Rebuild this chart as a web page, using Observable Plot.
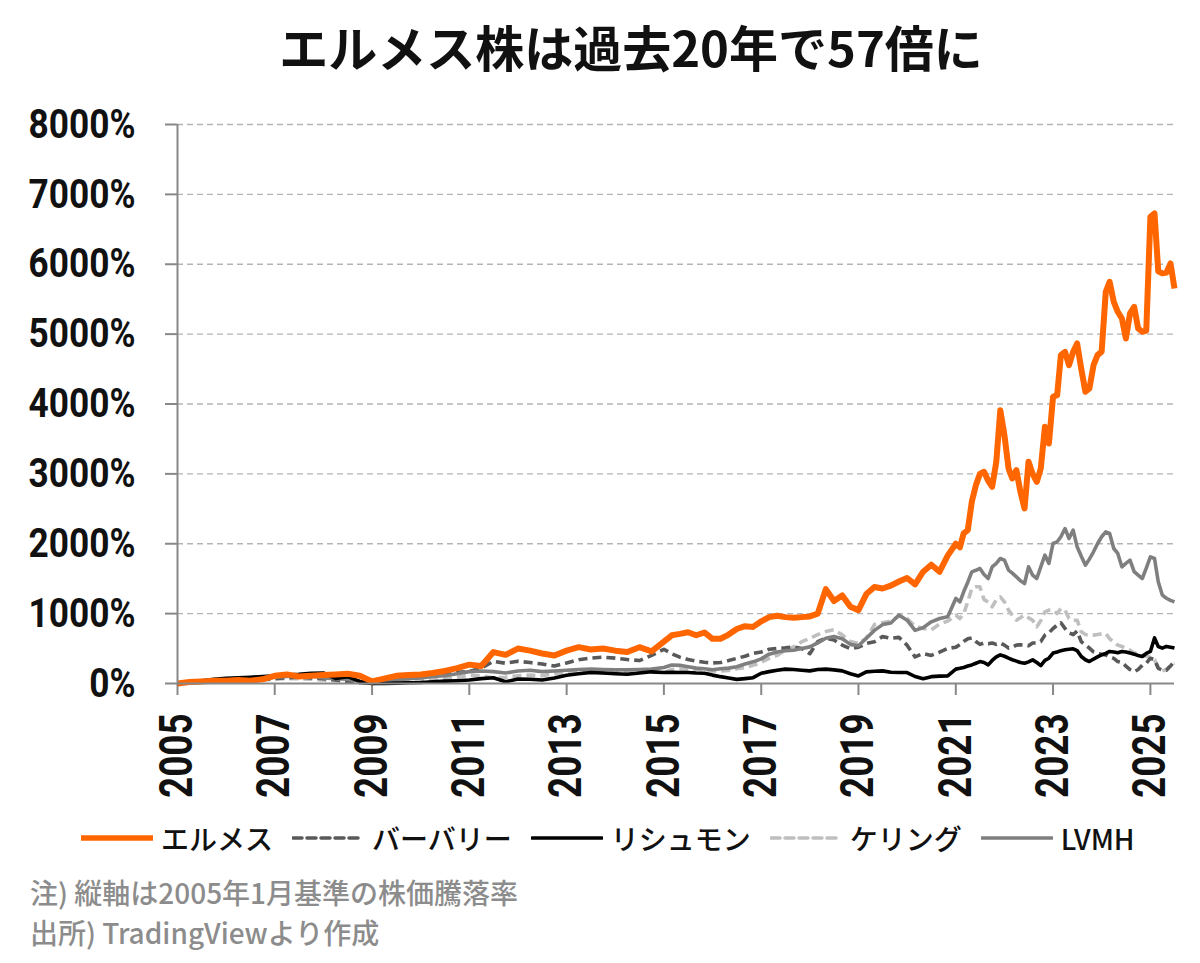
<!DOCTYPE html>
<html><head><meta charset="utf-8">
<script src="https://cdn.jsdelivr.net/npm/d3@7"></script>
<script src="https://cdn.jsdelivr.net/npm/@observablehq/plot@0.6"></script>
<style>
body{margin:0;background:#fff;width:1200px;height:963px;overflow:hidden;font-family:"Noto Sans CJK JP","Noto Sans",sans-serif;color:#111;}
#title{height:90px;display:flex;align-items:center;justify-content:center;font-size:49px;font-weight:700;padding-left:62px;}
#chart{height:720px;}
#legend{height:56px;display:flex;align-items:center;padding-left:81px;font-size:28px;font-weight:500;}
#legend .item{display:flex;align-items:center;margin-right:19px;}
#legend svg{margin-right:8px;}
#notes{padding-left:30px;padding-top:6px;font-size:28px;font-weight:500;color:#8c8c8c;line-height:40px;}
</style></head>
<body>
<div id="title">エルメス株は過去20年で57倍に</div>
<div id="chart"></div>
<div id="legend"></div>
<div id="notes"><div>注) 縦軸は2005年1月基準の株価騰落率</div><div>出所) TradingViewより作成</div></div>
<script>
// dates: quarterly 2005-2014, bimonthly 2015-2020, monthly 2021-01..2025-07
const quarterYears = [2005,2006,2007,2008,2009,2010,2011,2012,2013,2014];
const quarterMonths = [1,4,7,10];
const biYears = [2015,2016,2017,2018,2019,2020];
const biMonths = [1,3,5,7,9,11];
const monthYears = [2021,2022,2023,2024,2025];
const lastMonth2025 = 7;

const hermes = [
 0,20,30,40, 40,50,40,60, 110,130,100,110, 120,130,140,110, 30,70,110,120, 130,150,180,220, 270,250,450,410, 500,470,430,400, 470,520,486,500, 470,450,520,460,
 600,690,710,734,690,730, 640,640,700,780,820,810, 890,950,970,950,940,950, 960,1000,1350,1180,1260,1100, 1050,1280,1380,1360,1400,1460, 1510,1420,1600,1700,1600,1830,
 2000,1950,2150,2195,2600,2839,3000,3030,2900,2815,3173,3912,
 3554,3077,2934,3053,2743,2505,3173,3000,2887,3077,3674,3435,
 4103,4127,4700,4747,4556,4747,4866,4500,4175,4222,4556,4700,
 4750,5606,5749,5463,5320,5224,4938,5296,5391,5081,5034,5050,
 6680,6727,5900,5870,5880,6011,5654
];
const burberry = [
 0,10,20,30, 40,50,50,60, 70,80,90,80, 70,50,30,10, 0,30,60,80, 100,120,140,160, 171,220,318,290, 318,300,279,250, 294,340,363,377, 363,343,328,402,
 490,426,377,343,320,304, 294,300,328,360,390,430, 451,490,500,510,524,500, 426,598,647,622,550,500, 520,573,598,671,647,660, 549,380,429,402,450,501,
 520,555,600,640,652,600,560,580,570,580,560,580,
 549,507,520,549,555,549,540,580,580,600,692,725,
 787,835,869,787,725,700,749,600,549,507,453,430,
 420,410,380,360,314,300,250,200,169,200,262,290,
 362,340,217,193,191,250,320
];
const richemont = [
 0,20,40,60, 73,80,90,100, 110,122,130,147, 150,73,98,30, 0,0,5,10, 15,25,34,40, 49,70,83,25, 64,60,49,80, 118,140,157,150, 140,132,150,167,
 157,160,157,157,150,147, 120,98,80,59,70,83, 147,170,190,206,200,190, 181,200,206,195,181,140, 108,167,175,181,160,157, 157,100,69,98,105,108,
 206,217,230,250,266,290,314,300,266,330,380,410,
 390,362,340,320,300,290,310,338,300,256,330,362,
 435,450,470,483,490,497,470,386,340,314,350,380,
 410,430,459,450,440,459,450,435,420,400,386,430,
 459,652,530,507,531,520,507
];
const kering = [
 0,10,20,30, 30,40,40,50, 60,70,70,60, 50,40,30,10, 0,10,30,40, 40,60,70,90, 120,110,80,90, 110,120,110,140, 157,165,167,150, 147,176,170,160,
 157,200,206,206,200,190, 181,181,185,210,230,260, 304,360,402,480,524,598, 647,700,745,769,696,600, 573,647,843,870,892,965, 930,820,787,769,850,892,
 978,930,1000,1169,1360,1384,1384,1200,1169,1097,1200,1240,
 1169,1050,978,906,940,978,940,906,811,900,1026,1050,
 1050,1002,1073,1050,930,906,906,740,700,692,692,700,
 710,716,640,596,549,530,500,477,440,420,406,390,
 380,340,230,180,200,260,290
];
const lvmh = [
 0,10,30,50, 60,50,60,80, 90,100,110,110, 80,70,60,30, 0,20,50,70, 80,100,110,140, 170,180,170,150, 180,190,170,180, 190,200,206,200, 195,196,200,206,
 230,265,260,240,220,210, 196,210,220,240,279,310, 353,420,451,470,475,500, 524,580,647,671,640,560, 540,647,760,843,867,980, 906,760,800,883,930,954,
 1217,1169,1312,1450,1598,1620,1646,1560,1503,1670,1720,1789,
 1765,1622,1580,1527,1470,1431,1670,1550,1503,1670,1837,1718,
 2004,2028,2100,2218,2075,2195,1956,1820,1694,1780,1885,2000,
 2100,2171,2147,1932,1861,1670,1720,1765,1600,1550,1503,1650,
 1813,1789,1455,1264,1220,1190,1169
];

const seriesNames = ["エルメス","バーバリー","リシュモン","ケリング","LVMH"];
const yTicks = [0,1000,2000,3000,4000,5000,6000,7000,8000];
const xTickYears = [2005,2007,2009,2011,2013,2015,2017,2019,2021,2023,2025];

const dates = [];
for (const y of quarterYears) for (const m of quarterMonths) dates.push(new Date(Date.UTC(y, m-1, 1)));
for (const y of biYears) for (const m of biMonths) dates.push(new Date(Date.UTC(y, m-1, 1)));
for (const y of monthYears) for (let m = 1; m <= (y === 2025 ? lastMonth2025 : 12); m++) dates.push(new Date(Date.UTC(y, m-1, 1)));

const styles = {
  "エルメス": {stroke:"#ff6600", strokeWidth:6, dash:null},
  "バーバリー": {stroke:"#595959", strokeWidth:3.6, dash:"9,5"},
  "リシュモン": {stroke:"#000000", strokeWidth:3.6, dash:null},
  "ケリング": {stroke:"#bfbfbf", strokeWidth:3.6, dash:"9,5"},
  "LVMH": {stroke:"#7f7f7f", strokeWidth:3.6, dash:null}
};
const valuesByName = {"エルメス":hermes,"バーバリー":burberry,"リシュモン":richemont,"ケリング":kering,"LVMH":lvmh};
const table = n => valuesByName[n].map((v,i)=>({date:dates[i], value:v}));

const drawOrder = ["ケリング","バーバリー","LVMH","リシュモン","エルメス"];
const lineMarks = drawOrder.map(n => Plot.line(table(n), {x:"date", y:"value", stroke:styles[n].stroke, strokeWidth:styles[n].strokeWidth, strokeDasharray:styles[n].dash, strokeLinejoin:"round", strokeLinecap:"butt"}));

const xDomain = [new Date(Date.UTC(2005,0,1)), new Date(Date.UTC(2025,6,1))];
const axisFont = "Roboto, 'Liberation Sans', sans-serif";

const chart = Plot.plot({
  width:1200, height:720,
  marginLeft:177, marginRight:26, marginTop:34, marginBottom:127,
  x:{type:"utc", domain:xDomain},
  y:{domain:[0,8000]},
  marks:[
    Plot.gridY(yTicks.filter(d=>d>0), {stroke:"#b5b5b5", strokeOpacity:1, strokeWidth:1.3, strokeDasharray:"6,4"}),
    Plot.axisY({ticks:yTicks, tickSize:12, tickPadding:30, tickFormat:d=>d+"%", color:"#888", fill:"#111", strokeWidth:2,
      fontFamily:axisFont, fontSize:41, fontWeight:700, label:null}),
    Plot.axisX({ticks:xTickYears.map(y=>new Date(Date.UTC(y,0,1))), tickFormat:d3.utcFormat("%Y"), tickSize:12, tickPadding:18, tickRotate:-90, color:"#888", fill:"#111", strokeWidth:2,
      fontFamily:axisFont, fontSize:46, fontWeight:700, label:null}),
    ...lineMarks,
    Plot.ruleY([0], {stroke:"#888", strokeWidth:2}),
    Plot.ruleX([xDomain[0]], {stroke:"#888", strokeWidth:2})
  ]
});
document.getElementById("chart").appendChild(chart);

// narrow the axis digits (condensed look of the reference)
d3.select(chart).selectAll("g[aria-label='y-axis tick label'] text")
  .attr("transform", function(){ return (this.getAttribute("transform")||"") + " scale(0.86,1)"; });
d3.select(chart).selectAll("g[aria-label='x-axis tick label'] text")
  .attr("transform", function(){ return (this.getAttribute("transform")||"") + " scale(0.8,1)"; });

// legend
const legend = document.getElementById("legend");
for (const n of seriesNames) {
  const s = styles[n];
  const item = document.createElement("div");
  item.className = "item";
  item.innerHTML = `<svg width="72" height="10"><line x1="1" y1="5" x2="71" y2="5" stroke="${s.stroke}" stroke-width="${n==="エルメス"?5.5:3.5}" stroke-linecap="round" ${s.dash?`stroke-dasharray="9,5"`:""}/></svg><span>${n}</span>`;
  legend.appendChild(item);
}
</script>
</body></html>
